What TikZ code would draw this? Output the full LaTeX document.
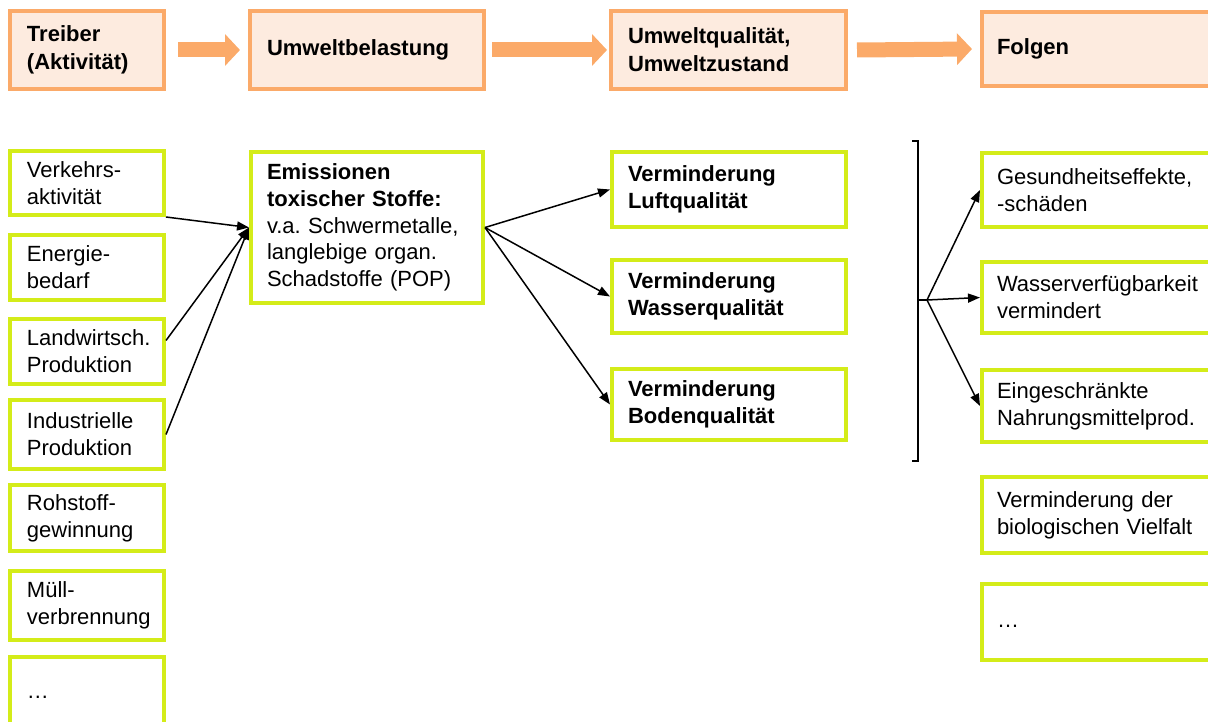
\documentclass[tikz,border=0pt]{standalone}
\usepackage{fontspec}
\setmainfont{Liberation Sans}
\usetikzlibrary{arrows.meta,calc}
\definecolor{oborder}{HTML}{FBAA69}
\definecolor{ofill}{HTML}{FDEBDF}
\definecolor{gborder}{HTML}{D4EC19}
\hyphenpenalty=10000
\exhyphenpenalty=10000
\frenchspacing
\begin{document}
\begin{tikzpicture}[x=1pt,y=-1pt,
  obox/.style={draw=oborder, fill=ofill, line width=4pt, inner xsep=17pt, inner ysep=0pt,
    align=left, font=\bfseries\fontsize{22}{28}\selectfont},
  gbox/.style={draw=gborder, fill=white, line width=4pt, inner xsep=17pt, inner ysep=0pt,
    align=left, font=\fontsize{22}{27}\selectfont},
  gboxr/.style={gbox, inner xsep=16pt},
  bold/.style={font=\bfseries\fontsize{22}{27}\selectfont},
  conn/.style={line width=1.5pt, -{Triangle[length=12pt,width=9pt]}},
  bigarrow/.style={oborder, line width=15pt, -{Triangle[length=15pt,width=31pt]}},
  dotsbox/.style={text height=15pt, text depth=4pt}]
\useasboundingbox (0,0) rectangle (1208,722);
\clip (0,0) rectangle (1208,722);

% header row
\node[obox, text width=120pt, minimum width=154pt, minimum height=78pt] (treiber) at (87,50) {Treiber\\(Aktivität)};
\node[obox, text width=200pt, minimum width=234pt, minimum height=78pt] (umweltb) at (367,50) {Umweltbelastung};
\node[obox, text width=201pt, minimum width=235pt, minimum height=78pt] (umweltq) at (728.5,50) {Umweltqualität,\\Umweltzustand};
\node[obox, inner xsep=15pt, text width=228pt, minimum width=258pt, minimum height=74pt] (folgen) at (1111,49) {Folgen};

\draw[bigarrow] ($(treiber.east)+(12,0)$) -- ($(umweltb.west)+(-8,0)$);
\draw[bigarrow] ($(umweltb.east)+(6,0)$) -- ($(umweltq.west)+(-2,0)$);
\draw[bigarrow] ($(umweltq.east)+(9,0)$) -- ($(folgen.west)+(-8,0)$);

% left column
\node[gbox, text width=120pt, minimum width=154pt, minimum height=64pt] (verkehr) at (87,183) {Verkehrs-\\aktivität};
\node[gbox, text width=120pt, minimum width=154pt, minimum height=65pt] (energie) at (87,267.5) {Energie-\\bedarf};
\node[gbox, text width=120pt, minimum width=154pt, minimum height=65pt] (landw) at (87,351.5) {Landwirtsch.\\Produktion};
\node[gbox, text width=120pt, minimum width=154pt, minimum height=69pt] (industrie) at (87,434.5) {Industrielle\\Produktion};
\node[gbox, text width=120pt, minimum width=154pt, minimum height=66pt] (rohstoff) at (87,518) {Rohstoff-\\gewinnung};
\node[gbox, text width=120pt, minimum width=154pt, minimum height=69pt] (muell) at (87,605.5) {Müll-\\verbrennung};
\node[gbox, dotsbox, text width=120pt, minimum width=154pt, minimum height=71pt] (dotsl) at (87,692.5) {…};

% emissions
\node[gbox, inner xsep=16pt, text width=200pt, minimum width=232pt, minimum height=151pt,
  font=\fontsize{22}{26.75}\selectfont] (emis) at (367,227.5)
  {\textbf{Emissionen}\\\textbf{toxischer Stoffe:}\\\mbox{v.a. Schwermetalle,}\\langlebige organ.\\\mbox{Schadstoffe (POP)}};

% environmental quality column
\node[gboxr, bold, text width=202pt, minimum width=234pt, minimum height=75pt] (luft) at (729,189.5) {Verminderung\\Luftqualität};
\node[gboxr, bold, text width=202pt, minimum width=234pt, minimum height=73pt] (wasser) at (729,296.5) {Verminderung\\Wasserqualität};
\node[gboxr, bold, text width=202pt, minimum width=234pt, minimum height=71pt] (boden) at (729,404.5) {Verminderung\\Bodenqualität};

% consequences column
\node[gboxr, inner xsep=15pt, text width=228pt, minimum width=258pt, minimum height=74pt] (gesund) at (1111,190) {Gesundheitseffekte,\\-schäden};
\node[gboxr, inner xsep=15pt, text width=228pt, minimum width=258pt, minimum height=71pt] (wasserv) at (1111,297.5) {Wasserverfügbarkeit\\vermindert};
\node[gboxr, inner xsep=15pt, text width=228pt, minimum width=258pt, minimum height=72pt] (einge) at (1111,406) {Eingeschränkte\\Nahrungsmittelprod.};
\node[gboxr, inner xsep=15pt, text width=228pt, minimum width=258pt, minimum height=76pt] (vielfalt) at (1111,515) {Verminderung der\\biologischen Vielfalt};
\node[gboxr, dotsbox, inner xsep=15pt, text width=228pt, minimum width=258pt, minimum height=76pt] (dotsr) at (1111,622) {…};

% connectors left -> emissions
\draw[conn] (verkehr.south east) -- (emis.west);
\draw[conn] ($(landw.east)+(0,-11)$) -- (emis.west);
\draw[conn] (industrie.east) -- (emis.west);

% emissions -> quality
\draw[conn] (emis.east) -- (luft.west);
\draw[conn] (emis.east) -- (wasser.west);
\draw[conn] (emis.east) -- (boden.west);

% bracket and consequences
\coordinate (btop) at (918,141);
\coordinate (bbot) at (918,461);
\coordinate (bmid) at (918,300);
\coordinate (hub) at (927,300);
\draw[line width=1.8pt] ($(btop)+(-6,0)$) -- (btop) -- (bbot) -- ($(bbot)+(-6,0)$);
\draw[line width=1.5pt] (bmid) -- (hub);
\draw[conn] (hub) -- (gesund.west);
\draw[conn] (hub) -- (wasserv.west);
\draw[conn] (hub) -- (einge.west);
\end{tikzpicture}
\end{document}
